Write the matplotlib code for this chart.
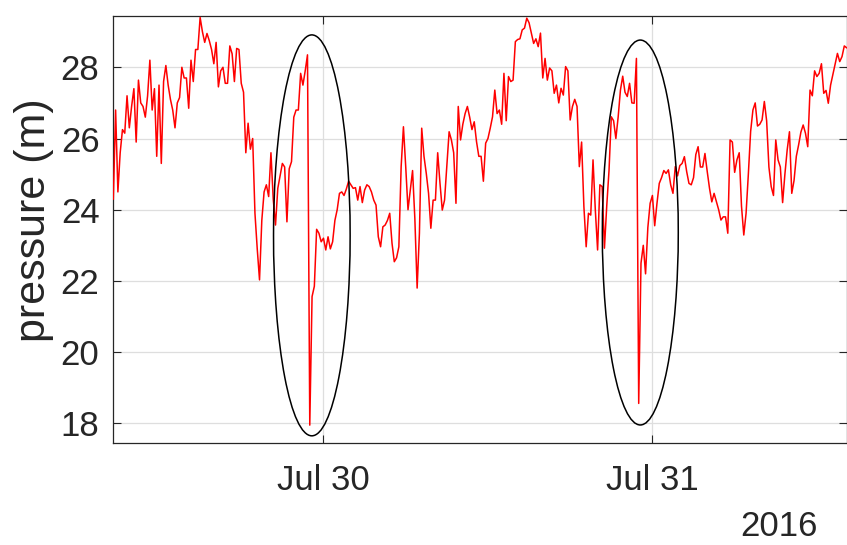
import numpy as np
import pandas as pd
import matplotlib
matplotlib.use("Agg")
import matplotlib.pyplot as plt
import matplotlib.dates as mdates
from matplotlib.patches import Ellipse

plt.rcParams.update({
    "font.family": ["Liberation Sans", "DejaVu Sans"],
})

# 10-minute samples starting Jul 29 2016 08:40
t_start = "2016-07-29 08:40"
t_step = "10min"

pressure = [
    24.3, 26.8, 24.5, 25.6, 26.25, 26.15, 27.2, 26.3, 26.9, 27.4,
    25.9, 27.64, 27.0, 26.9, 26.6, 27.2, 28.2, 26.8, 27.4, 25.5,
    27.5, 25.3, 27.6, 28.05, 27.5, 27.1, 26.8, 26.3, 27.0, 27.15,
    28.0, 27.7, 27.7, 26.85, 28.2, 27.6, 28.5, 28.5, 29.4, 29.0,
    28.7, 28.95, 28.75, 28.5, 28.1, 28.7, 27.45, 27.9, 28.0, 27.55,
    27.55, 28.6, 28.38, 27.6, 28.53, 28.5, 27.55, 27.3, 25.6, 26.43,
    25.7, 26.0, 23.9, 22.9, 22.03, 23.7, 24.5, 24.7, 24.37, 25.6,
    24.3, 23.57, 24.6, 24.95, 25.3, 25.2, 23.66, 25.15, 25.35, 26.6,
    26.8, 26.8, 27.83, 27.5, 27.9, 28.35, 17.95, 21.56, 21.85, 23.45,
    23.34, 23.1, 23.2, 22.87, 23.24, 22.9, 23.1, 23.7, 24.0, 24.46,
    24.5, 24.4, 24.58, 24.8, 24.7, 24.6, 24.62, 24.27, 24.65, 24.2,
    24.55, 24.7, 24.65, 24.5, 24.27, 24.13, 23.24, 22.96, 23.52, 23.57,
    23.7, 23.9, 23.06, 22.54, 22.65, 22.96, 25.21, 26.33, 25.21, 24.0,
    24.55, 25.1, 23.75, 21.8, 23.34, 26.29, 25.5, 25.02, 24.46, 23.48,
    24.27, 24.27, 25.6, 24.75, 23.99, 24.27, 25.25, 26.19, 25.96, 25.6,
    24.18, 26.9, 25.96, 26.4, 26.7, 26.9, 26.6, 26.25, 26.47, 25.91,
    25.5, 25.5, 24.8, 25.87, 26.0, 26.29, 26.61, 27.36, 26.7, 26.8,
    26.4, 27.83, 26.5, 27.74, 27.6, 27.64, 28.72, 28.78, 28.8, 29.05,
    29.1, 29.38, 29.25, 28.96, 28.67, 28.8, 28.58, 28.96, 27.7, 28.25,
    27.64, 27.98, 27.9, 27.27, 27.5, 27.0, 27.41, 27.22, 28.02, 27.9,
    26.52, 26.9, 27.1, 26.9, 25.21, 25.9, 24.09, 22.96, 23.9, 23.85,
    25.4, 24.0, 22.87, 24.7, 24.65, 22.92, 24.1, 25.1, 26.61, 26.5,
    26.0, 26.6, 27.36, 27.75, 27.3, 27.18, 27.55, 27.0, 26.99, 28.25,
    18.56, 22.5, 23.0, 22.2, 23.5, 24.18, 24.4, 23.55, 24.18, 24.74,
    24.9, 25.1, 25.02, 25.12, 24.7, 24.46, 25.21, 24.95, 25.24, 25.3,
    25.49, 25.07, 24.74, 24.7, 24.9, 25.55, 25.77, 25.2, 25.2, 25.58,
    25.07, 24.6, 24.22, 24.46, 24.23, 24.0, 23.71, 23.8, 23.8, 23.34,
    25.96, 25.9, 25.05, 25.4, 25.6, 24.1, 23.29, 23.9, 25.0, 26.2,
    26.8, 27.0, 26.35, 26.4, 26.52, 27.04, 26.5, 25.2, 24.65, 24.4,
    25.96, 25.4, 25.2, 24.2, 25.0, 25.68, 26.19, 24.46, 24.82, 25.5,
    25.82, 26.18, 26.38, 26.15, 25.77, 27.36, 27.2, 27.9, 27.74, 27.83,
    28.1, 27.27, 27.35, 26.99, 27.5, 27.8, 28.1, 28.39, 28.16, 28.3,
    28.6, 28.55,
]

# ellipses marking the two sudden drops: centre time, centre value, width (h), height (m)
ellipse_times = ["2016-07-29 23:09", "2016-07-30 23:07"]
ellipse_values = [23.28, 23.36]
ellipse_widths_h = [5.59, 5.54]
ellipse_heights = [11.26, 10.81]

y_ticks = [18, 20, 22, 24, 26, 28]
x_ticks = ["2016-07-30", "2016-07-31"]

times = pd.date_range(t_start, periods=len(pressure), freq=t_step)

text_col = "#262626"
fig = plt.figure(figsize=(8.47, 5.45), dpi=100)
ax = fig.add_axes([0.1338, 0.1866, 0.8657, 0.7840])

ax.plot(times, pressure, color="red", lw=1.1, zorder=3)

for tc, yc, w, h in zip(ellipse_times, ellipse_values, ellipse_widths_h, ellipse_heights):
    e = Ellipse((mdates.date2num(pd.Timestamp(tc)), yc), width=w / 24.0, height=h,
                fill=False, edgecolor="black", lw=1.1, zorder=4)
    ax.add_patch(e)

ax.set_xlim(times[0], times[-1])
ax.set_ylim(17.44, 29.44)
ax.set_yticks(y_ticks)
ax.set_xticks(pd.to_datetime(x_ticks))
ax.xaxis.set_major_formatter(mdates.DateFormatter("%b %d"))

ax.grid(True, color="#dedede", lw=0.9, zorder=0)
ax.set_axisbelow(True)
ax.tick_params(direction="in", length=5.5, width=0.8, colors=text_col,
               labelsize=25, top=True, right=True)
ax.tick_params(axis="y", pad=10)
ax.tick_params(axis="x", pad=15)
for s in ax.spines.values():
    s.set_color(text_col)
    s.set_linewidth(0.9)

fig.text(33.5 / 847, 1 - 220 / 545, "pressure (m)", rotation=90, ha="center",
         va="center", fontsize=31, color=text_col)
fig.text(818 / 847, 1.5 / 545, "2016", ha="right", va="bottom",
         fontsize=25, color=text_col)

fig.savefig("out.png", dpi=100, facecolor="white")
